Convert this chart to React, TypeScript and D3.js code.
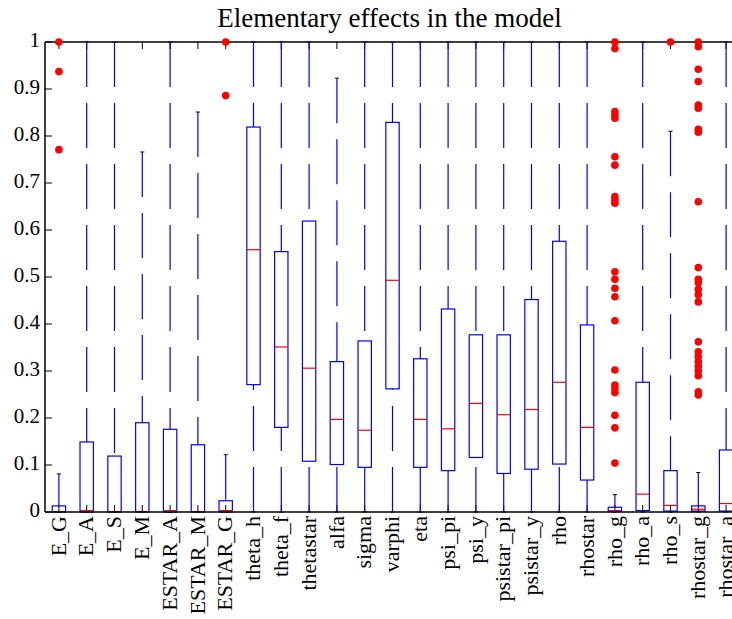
import * as d3 from 'd3';
import React from 'react';

// box statistics
const categories = [
  'E_G', 'E_A', 'E_S', 'E_M', 'ESTAR_A', 'ESTAR_M', 'ESTAR_G',
  'theta_h', 'theta_f', 'thetastar', 'alfa', 'sigma', 'varphi', 'eta',
  'psi_pi', 'psi_y', 'psistar_pi', 'psistar_y', 'rho', 'rhostar',
  'rho_g', 'rho_a', 'rho_s', 'rhostar_g', 'rhostar_a',
];
const q1 = [
  0, 0, 0, 0, 0, 0, 0,
  0.271, 0.18, 0.108, 0.101, 0.095, 0.262, 0.095,
  0.088, 0.116, 0.082, 0.091, 0.102, 0.068,
  0.001, 0.003, 0.002, 0.002, 0.002,
];
const medians = [
  0.001, 0.003, 0.001, 0.001, 0.003, 0.001, 0.003,
  0.558, 0.351, 0.306, 0.197, 0.174, 0.493, 0.197,
  0.177, 0.231, 0.207, 0.218, 0.276, 0.18,
  0.003, 0.038, 0.014, 0.006, 0.018,
];
const q3 = [
  0.013, 0.149, 0.119, 0.19, 0.176, 0.143, 0.024,
  0.819, 0.554, 0.619, 0.32, 0.364, 0.829, 0.326,
  0.432, 0.377, 0.377, 0.452, 0.576, 0.398,
  0.01, 0.276, 0.088, 0.013, 0.132,
];
const upperAdj = [
  0.081, 1, 1, 0.766, 1, 0.851, 0.122,
  1, 1, 1, 0.923, 1, 1, 1,
  1, 1, 1, 1, 1, 1,
  0.037, 1, 0.81, 0.084, 1,
];
const lowerAdj = [
  0, 0, 0, 0, 0, 0, 0,
  0, 0, 0, 0, 0, 0, 0,
  0, 0, 0, 0, 0, 0,
  0, 0, 0, 0, 0,
];
const outliers: number[][] = [
  [1.0, 0.937, 0.771], [], [], [], [], [], [1.0, 0.886],
  [], [], [], [], [], [], [],
  [], [], [], [], [], [],
  [1.0, 0.986, 0.852, 0.845, 0.838, 0.756, 0.738, 0.671, 0.664, 0.657,
    0.511, 0.495, 0.476, 0.458, 0.407, 0.302, 0.27, 0.263, 0.254, 0.206, 0.179, 0.104],
  [],
  [1.0],
  [1.0, 0.99, 0.942, 0.916, 0.866, 0.859, 0.814, 0.808, 0.66, 0.52, 0.495, 0.488,
    0.474, 0.462, 0.447, 0.362, 0.341, 0.331, 0.32, 0.31, 0.3, 0.29, 0.256, 0.249],
  [],
];
const yTicks = [0, 0.1, 0.2, 0.3, 0.4, 0.5, 0.6, 0.7, 0.8, 0.9, 1];
const yTickLabels = ['0', '0.1', '0.2', '0.3', '0.4', '0.5', '0.6', '0.7', '0.8', '0.9', '1'];
const title = 'Elementary effects in the model';

const W = 732;
const H = 619;
const left = 45;
const right = 740;
const top = 42;
const bottom = 512;
const font = '"Liberation Serif", "Times New Roman", serif';

export default function App() {
  const x = d3.scaleBand().domain(categories).range([left, right]).padding(0);
  const y = d3.scaleLinear().domain([0, 1]).range([bottom, top]);
  const bw = x.bandwidth();
  const boxW = bw * 0.48;
  const cx = (c: string) => (x(c) as number) + bw / 2;
  const tickLen = 7;

  return (
    <svg width={W} height={H} style={{ position: 'absolute', left: 0, top: 0, background: '#fff' }}>
      <rect x={0} y={0} width={W} height={H} fill="#fff" />
      <text x={(left + right) / 2 - 3} y={27} textAnchor="middle" fontFamily={font} fontSize={27}>
        {title}
      </text>

      {/* y ticks + labels */}
      {yTicks.map((t, i) => (
        <g key={'yt' + i}>
          <line x1={left} x2={left + tickLen} y1={y(t)} y2={y(t)} stroke="#000" strokeWidth={1} />
          <text x={40} y={y(t)} dy="0.22em" textAnchor="end" fontFamily={font} fontSize={21}>
            {yTickLabels[i]}
          </text>
        </g>
      ))}

      {/* x ticks top and bottom, labels */}
      {categories.map(c => (
        <g key={'xt' + c}>
          <line x1={cx(c)} x2={cx(c)} y1={bottom} y2={bottom - tickLen} stroke="#000" strokeWidth={1} />
          <line x1={cx(c)} x2={cx(c)} y1={top} y2={top + tickLen} stroke="#000" strokeWidth={1} />
          <text
            transform={`translate(${cx(c)},516) rotate(-90)`}
            dy="0.3em"
            textAnchor="end"
            fontFamily={font}
            fontSize={22}
          >
            {c}
          </text>
        </g>
      ))}

      {/* boxes */}
      {categories.map((c, i) => {
        const xc = cx(c);
        return (
          <g key={'b' + c}>
            <line x1={xc} x2={xc} y1={y(upperAdj[i])} y2={y(q3[i])} stroke="#0000ff" strokeWidth={1.2} strokeDasharray="45 16" />
            <line x1={xc} x2={xc} y1={y(lowerAdj[i])} y2={y(q1[i])} stroke="#0000ff" strokeWidth={1.2} strokeDasharray="45 16" />
            <line x1={xc - 2} x2={xc + 2} y1={y(upperAdj[i])} y2={y(upperAdj[i])} stroke="#000" strokeWidth={1} />
            <line x1={xc - 2} x2={xc + 2} y1={y(lowerAdj[i])} y2={y(lowerAdj[i])} stroke="#000" strokeWidth={1} />
            <rect
              x={xc - boxW / 2}
              y={y(q3[i])}
              width={boxW}
              height={y(q1[i]) - y(q3[i])}
              fill="none"
              stroke="#0000ff"
              strokeWidth={1.2}
            />
            <line x1={xc - boxW / 2} x2={xc + boxW / 2} y1={y(medians[i])} y2={y(medians[i])} stroke="#ff0000" strokeWidth={1.2} />
          </g>
        );
      })}

      {/* axes */}
      <line x1={left} x2={W + 10} y1={bottom} y2={bottom} stroke="#000" strokeWidth={1.5} />
      <line x1={left} x2={W + 10} y1={top} y2={top} stroke="#000" strokeWidth={1.5} />
      <line x1={left} x2={left} y1={top} y2={bottom} stroke="#000" strokeWidth={1.5} />

      {/* outliers */}
      {categories.map((c, i) =>
        outliers[i].map((v, j) => (
          <circle key={'o' + c + j} cx={cx(c)} cy={y(v)} r={3.8} fill="#ff0000" />
        ))
      )}
    </svg>
  );
}
